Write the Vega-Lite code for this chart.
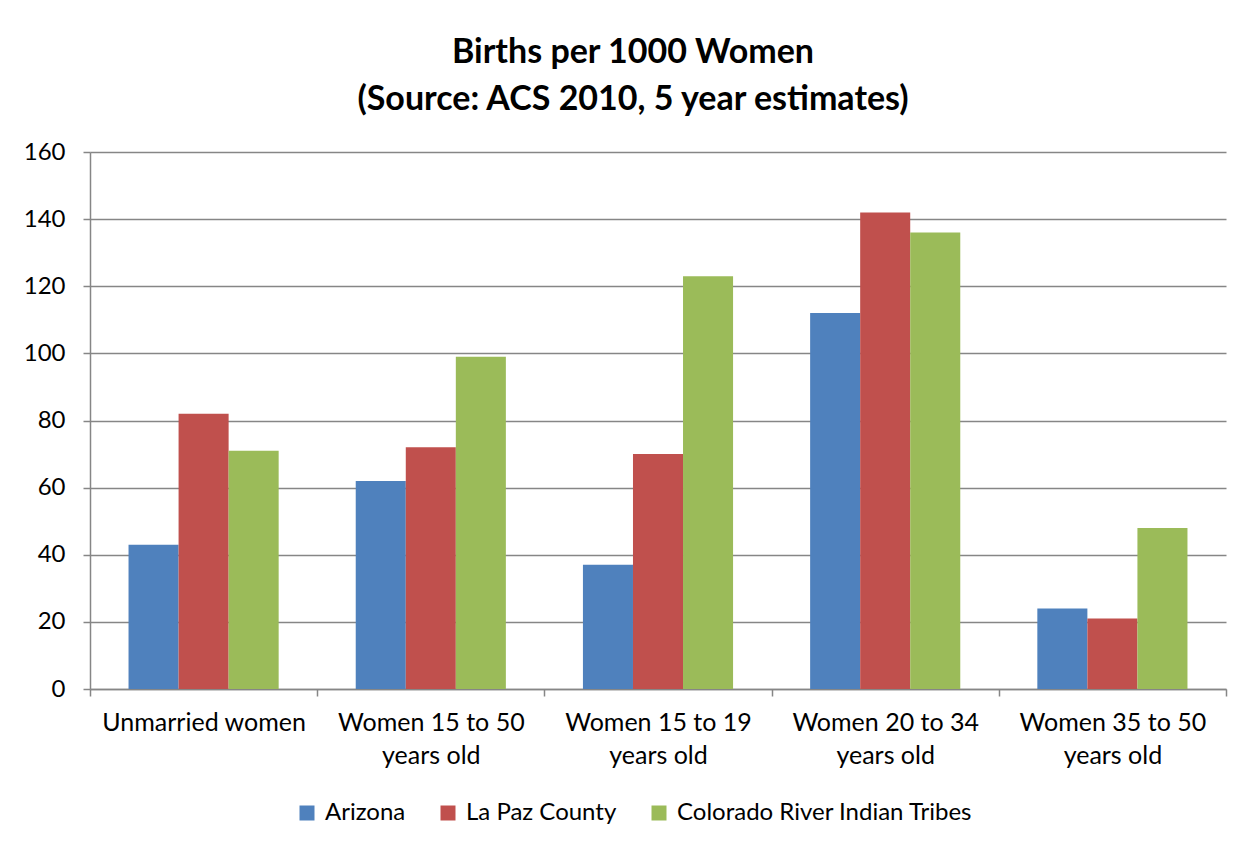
{
  "$schema": "https://vega.github.io/schema/vega-lite/v6.json",
  "width": 1136,
  "height": 537,
  "padding": {"left": 23, "top": 36, "right": 10, "bottom": 10},
  "background": "white",
  "title": {
    "text": ["Births per 1000 Women", "(Source: ACS 2010, 5 year estimates)"],
    "font": "Lato",
    "fontSize": 34,
    "fontWeight": "bold",
    "lineHeight": 47,
    "color": "black",
    "anchor": "middle",
    "dx": -25,
    "offset": 23
  },
  "data": {
    "values": [
      {"group": "Unmarried women", "series": "Arizona", "births": 43},
      {"group": "Unmarried women", "series": "La Paz County", "births": 82},
      {"group": "Unmarried women", "series": "Colorado River Indian Tribes", "births": 71},
      {"group": "Women 15 to 50 years old", "series": "Arizona", "births": 62},
      {"group": "Women 15 to 50 years old", "series": "La Paz County", "births": 72},
      {"group": "Women 15 to 50 years old", "series": "Colorado River Indian Tribes", "births": 99},
      {"group": "Women 15 to 19 years old", "series": "Arizona", "births": 37},
      {"group": "Women 15 to 19 years old", "series": "La Paz County", "births": 70},
      {"group": "Women 15 to 19 years old", "series": "Colorado River Indian Tribes", "births": 123},
      {"group": "Women 20 to 34 years old", "series": "Arizona", "births": 112},
      {"group": "Women 20 to 34 years old", "series": "La Paz County", "births": 142},
      {"group": "Women 20 to 34 years old", "series": "Colorado River Indian Tribes", "births": 136},
      {"group": "Women 35 to 50 years old", "series": "Arizona", "births": 24},
      {"group": "Women 35 to 50 years old", "series": "La Paz County", "births": 21},
      {"group": "Women 35 to 50 years old", "series": "Colorado River Indian Tribes", "births": 48}
    ]
  },
  "mark": {"type": "bar"},
  "encoding": {
    "x": {
      "field": "group",
      "type": "nominal",
      "sort": null,
      "scale": {"paddingInner": 0, "paddingOuter": 0},
      "axis": {
        "title": null,
        "labelAngle": 0,
        "labelFont": "Lato",
        "labelFontSize": 25,
        "labelColor": "black",
        "labelLineHeight": 33,
        "labelPadding": 14,
        "labelLimit": 400,
        "labelExpr": "(isString(datum.value) && indexof(datum.value, ' years') > 0) ? [substring(datum.value, 0, indexof(datum.value, ' years')), 'years old'] : datum.value",
        "tickBand": "extent",
        "tickSize": 7,
        "tickColor": "#868686",
        "domainColor": "#868686",
        "domainWidth": 1.5,
        "tickWidth": 1.5,
        "grid": false
      }
    },
    "xOffset": {
      "field": "series",
      "sort": ["Arizona", "La Paz County", "Colorado River Indian Tribes"],
      "scale": {"paddingInner": 0, "paddingOuter": 0.77}
    },
    "y": {
      "field": "births",
      "type": "quantitative",
      "scale": {"domain": [0, 160], "nice": false},
      "axis": {
        "title": null,
        "values": [0, 20, 40, 60, 80, 100, 120, 140, 160],
        "labelFont": "Lato",
        "labelFontSize": 24,
        "labelColor": "black",
        "labelPadding": 18,
        "tickSize": 7,
        "tickColor": "#868686",
        "domainColor": "#868686",
        "domainWidth": 1.5,
        "tickWidth": 1.5,
        "grid": true,
        "gridColor": "#868686",
        "gridWidth": 1.5
      }
    },
    "color": {
      "field": "series",
      "type": "nominal",
      "scale": {
        "domain": ["Arizona", "La Paz County", "Colorado River Indian Tribes"],
        "range": ["#4F81BD", "#C0504D", "#9BBB59"]
      },
      "legend": {
        "title": null,
        "orient": "none",
        "legendX": 205,
        "legendY": 649,
        "direction": "horizontal",
        "labelFont": "Lato",
        "labelFontSize": 24,
        "labelColor": "black",
        "labelLimit": 400,
        "symbolType": "square",
        "symbolSize": 225,
        "symbolStrokeWidth": 0,
        "symbolOpacity": 1,
        "columnPadding": 30,
        "labelOffset": 6
      }
    }
  },
  "config": {
    "view": {"stroke": null}
  }
}
